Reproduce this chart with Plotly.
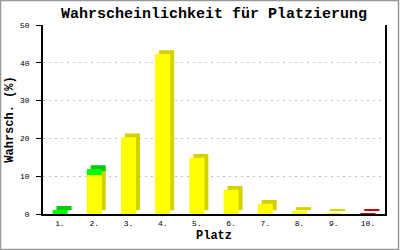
import plotly.graph_objects as go

categories = ["1.", "2.", "3.", "4.", "5.", "6.", "7.", "8.", "9.", "10."]
yellow_vals = [0, 10.3, 20.3, 42.3, 14.9, 6.4, 2.7, 0.8, 0.2, 0]
green_vals = [1.1, 1.6, 0, 0, 0, 0, 0, 0, 0, 0]
red_vals = [0, 0, 0, 0, 0, 0, 0, 0, 0, 0.2]
y_ticks = [0, 10, 20, 30, 40, 50]

DEPTH = 1.0           # 3D depth in value units (~4px)
FRONT_W = 0.44
FRONT_OFF = -0.22
BACK_OFF = FRONT_OFF + 0.115

mono = "Liberation Mono, DejaVu Sans Mono, monospace"

yellow_base = [0] * len(categories)
green_base = [yellow_vals[i] for i in range(len(categories))]
red_base = [0] * len(categories)

def nz(vals):
    return [v if v > 0 else None for v in vals]

series = [
    (yellow_vals, yellow_base, "#ffff00", "#d2d200"),
    (green_vals, green_base, "#00ff00", "#00cc00"),
    (red_vals, red_base, "#e00000", "#cc0000"),
]

fig = go.Figure()
for vals, base, front_c, back_c in series:
    fig.add_trace(go.Bar(
        x=categories, y=nz(vals), base=[b + DEPTH for b in base],
        width=FRONT_W, offset=BACK_OFF,
        marker=dict(color=back_c, line=dict(width=0)),
        hoverinfo="skip", showlegend=False))
for vals, base, front_c, back_c in series:
    fig.add_trace(go.Bar(
        x=categories, y=nz(vals), base=base,
        width=FRONT_W, offset=FRONT_OFF,
        marker=dict(color=front_c, line=dict(width=0)),
        showlegend=False))

fig.update_layout(
    width=400, height=250,
    barmode="overlay",
    paper_bgcolor="white", plot_bgcolor="white",
    margin=dict(l=43, r=15, t=25, b=36),
    title=dict(text="<b>Wahrscheinlichkeit für Platzierung</b>",
               font=dict(family=mono, size=15, color="black"),
               x=0.5, xanchor="center", xref="paper",
               y=0.972, yanchor="top", yref="container"),
    font=dict(family=mono, color="black"),
    xaxis=dict(
        type="category", categoryorder="array", categoryarray=categories,
        showline=True, linecolor="black", linewidth=2,
        showgrid=False, ticks="", zeroline=False, automargin=False,
        ticklabelstandoff=0,
        tickfont=dict(family=mono, size=8, color="black"),
        title=dict(text="<b>Platz</b>", font=dict(family=mono, size=12, color="black"), standoff=4),
    ),
    yaxis=dict(
        range=[0, 50], tickvals=y_ticks, automargin=False,
        showline=True, linecolor="black", linewidth=1.5, mirror=True,
        ticks="outside", ticklen=5, tickcolor="black",
        ticklabelstandoff=5,
        showgrid=True, gridcolor="#c0c0c0", griddash="2px,4px", gridwidth=1,
        zeroline=False,
        tickfont=dict(family=mono, size=8, color="black"),
        title=dict(text="<b>Wahrsch. (%)</b>", font=dict(family=mono, size=12, color="black"), standoff=4),
    ),
    shapes=[dict(type="rect", xref="paper", yref="paper",
                 x0=-42.5 / 342, x1=(342 + 13.5) / 342,
                 y0=-35.5 / 189, y1=(189 + 24.5) / 189,
                 line=dict(color="#999999", width=1.5), fillcolor="rgba(0,0,0,0)",
                 layer="below")],
)

fig.write_html("out.html")
